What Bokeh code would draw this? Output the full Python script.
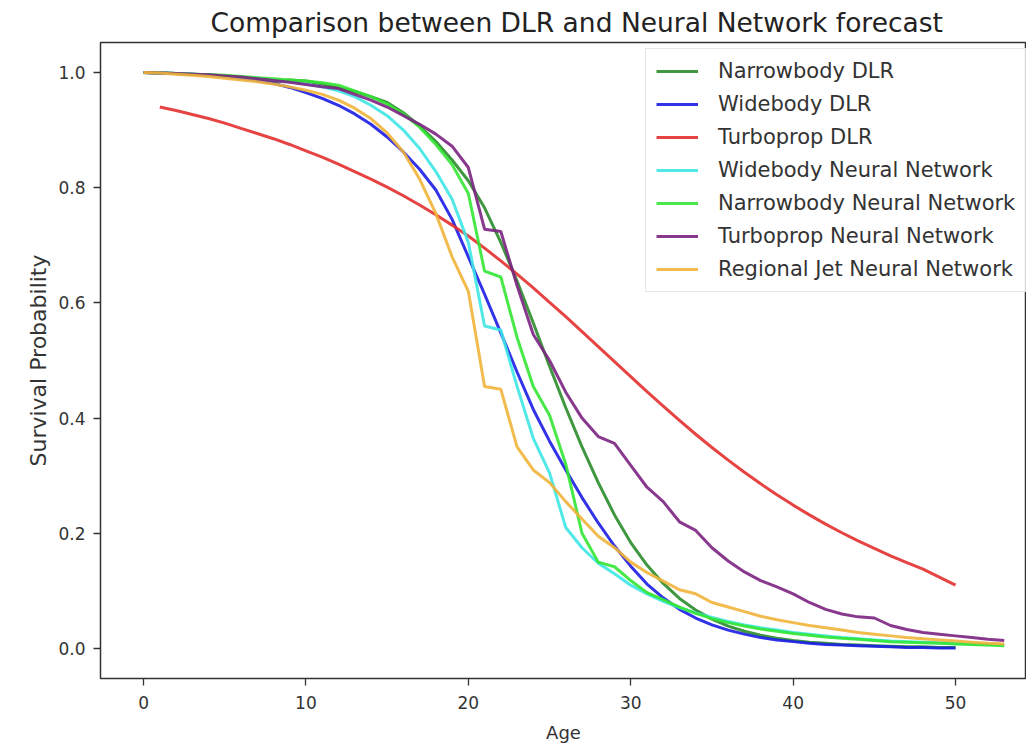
from bokeh.plotting import figure
from bokeh.models import FixedTicker, NumeralTickFormatter, Range1d, Legend, LegendItem
from bokeh.embed import file_html
from bokeh.resources import INLINE

# ---- data ----
ages_dlr_nb = list(range(0, 51))
narrowbody_dlr = [1.0, .999, .998, .997, .996, .994, .991, .988, .984, .987,
                  .985, .980, .973, .967, .958, .948, .930, .907, .880, .848,
                  .812, .765, .705, .638, .565, .490, .418, .350, .288, .232,
                  .184, .145, .113, .087, .067, .051, .039, .030, .023, .018,
                  .014, .011, .009, .007, .006, .005, .004, .003, .003, .002, .002]

ages_dlr_wb = list(range(0, 51))
widebody_dlr = [1.0, .999, .998, .997, .995, .993, .990, .986, .981, .974,
                .965, .955, .943, .928, .910, .888, .862, .832, .796, .745,
                .680, .615, .548, .480, .415, .360, .310, .262, .218, .178,
                .143, .112, .088, .068, .053, .041, .032, .025, .019, .015,
                .012, .009, .007, .006, .005, .004, .003, .002, .002, .001, .001]

ages_dlr_tp = list(range(1, 51))
turboprop_dlr = [.940, .934, .927, .920, .912, .903, .894, .885, .875, .864,
                 .853, .841, .828, .815, .801, .786, .770, .753, .735, .716,
                 .695, .673, .650, .626, .601, .576, .550, .524, .498, .472,
                 .446, .421, .396, .372, .349, .327, .306, .286, .267, .249,
                 .232, .216, .201, .187, .174, .161, .149, .138, .124, .110]

ages_nn = list(range(0, 54))
widebody_nn = [1.0, .999, .998, .997, .996, .994, .992, .990, .987, .984,
               .980, .975, .968, .958, .943, .925, .900, .868, .828, .780,
               .705, .560, .553, .455, .365, .305, .210, .175, .148, .130,
               .110, .095, .082, .071, .062, .054, .047, .041, .036, .032,
               .028, .025, .022, .019, .017, .015, .013, .012, .011, .010,
               .009, .008, .007, .006]
narrowbody_nn = [1.0, .999, .998, .997, .996, .995, .993, .991, .989, .987,
                 .985, .982, .978, .968, .958, .945, .928, .905, .875, .840,
                 .790, .655, .645, .540, .455, .405, .320, .200, .150, .142,
                 .118, .097, .085, .072, .061, .052, .045, .039, .034, .030,
                 .026, .023, .020, .018, .016, .014, .012, .011, .010, .009,
                 .008, .007, .006, .005]
turboprop_nn = [1.0, .999, .998, .997, .996, .994, .992, .989, .986, .983,
                .979, .975, .972, .962, .952, .940, .925, .910, .893, .872,
                .835, .728, .724, .630, .545, .500, .445, .400, .368, .356,
                .318, .280, .255, .220, .205, .175, .152, .133, .118, .107,
                .095, .080, .068, .060, .055, .053, .040, .033, .028, .025,
                .022, .019, .016, .014]
regional_nn = [1.0, .999, .997, .995, .993, .990, .987, .984, .980, .975,
               .969, .962, .952, .938, .920, .895, .862, .815, .755, .680,
               .620, .455, .450, .350, .310, .288, .255, .225, .195, .175,
               .150, .132, .117, .102, .095, .080, .072, .064, .056, .050,
               .045, .040, .036, .032, .028, .025, .022, .019, .017, .015,
               .013, .011, .009, .008]

series = [
    ("Narrowbody DLR", ages_dlr_nb, narrowbody_dlr, "#2a8c2a"),
    ("Widebody DLR", ages_dlr_wb, widebody_dlr, "#1c1ce6"),
    ("Turboprop DLR", ages_dlr_tp, turboprop_dlr, "#e3302f"),
    ("Widebody Neural Network", ages_nn, widebody_nn, "#3ee6e6"),
    ("Narrowbody Neural Network", ages_nn, narrowbody_nn, "#33e633"),
    ("Turboprop Neural Network", ages_nn, turboprop_nn, "#7b2382"),
    ("Regional Jet Neural Network", ages_nn, regional_nn, "#f0b43a"),
]

FONT = "DejaVu Sans"
TXT = "#333333"

p = figure(frame_width=926, frame_height=636,
           x_range=Range1d(-2.65, 54.37), y_range=Range1d(-0.052, 1.052),
           output_backend="svg", toolbar_location=None,
           min_border_left=100, min_border_right=0, min_border_top=41, min_border_bottom=66,
           title="Comparison between DLR and Neural Network forecast")

items = []
for name, xs, ys, col in series:
    r = p.line(xs, ys, line_color=col, line_width=3, line_alpha=0.9)
    items.append(LegendItem(label=name, renderers=[r]))

p.title.text_font = FONT
p.title.text_font_size = "26.5px"
p.title.text_font_style = "normal"
p.title.text_color = "#222222"
p.title.align = "left"
p.title.offset = 110
p.title.standoff = 9

p.xgrid.visible = False
p.ygrid.visible = False
p.outline_line_color = "#333333"
p.outline_line_width = 1.5

for ax in (p.xaxis, p.yaxis):
    ax.axis_line_color = None
    ax.major_tick_out = 7
    ax.major_tick_in = 0
    ax.minor_tick_out = 0
    ax.minor_tick_in = 0
    ax.major_tick_line_color = "#333333"
    ax.major_tick_line_width = 1.3
    ax.major_label_text_font = FONT
    ax.major_label_text_font_size = "17px"
    ax.major_label_text_color = TXT
    ax.axis_label_text_font = FONT
    ax.axis_label_text_font_size = "18px"
    ax.axis_label_text_font_style = "normal"
    ax.axis_label_text_color = TXT

p.xaxis.ticker = FixedTicker(ticks=[0, 10, 20, 30, 40, 50])
p.yaxis.ticker = FixedTicker(ticks=[0.0, 0.2, 0.4, 0.6, 0.8, 1.0])
p.yaxis.formatter = NumeralTickFormatter(format="0.0")
p.xaxis.axis_label = "Age"
p.yaxis.axis_label = "Survival Probability"
p.yaxis.axis_label_text_font_size = "22px"
p.xaxis.major_label_standoff = 10
p.yaxis.major_label_standoff = 8
p.xaxis.axis_label_standoff = 10
p.yaxis.axis_label_standoff = 4

legend = Legend(items=items, location=(545, 386))
legend.label_text_font = FONT
legend.label_text_font_size = "21px"
legend.label_text_color = TXT
legend.glyph_width = 42
legend.glyph_height = 24
legend.label_height = 24
legend.label_standoff = 20
legend.spacing = 9
legend.padding = 10
legend.margin = 0
legend.border_line_color = "#d0d0d0"
legend.border_line_width = 1
legend.background_fill_alpha = 0.85
p.add_layout(legend)

open("out.html", "w").write(file_html(p, INLINE))
